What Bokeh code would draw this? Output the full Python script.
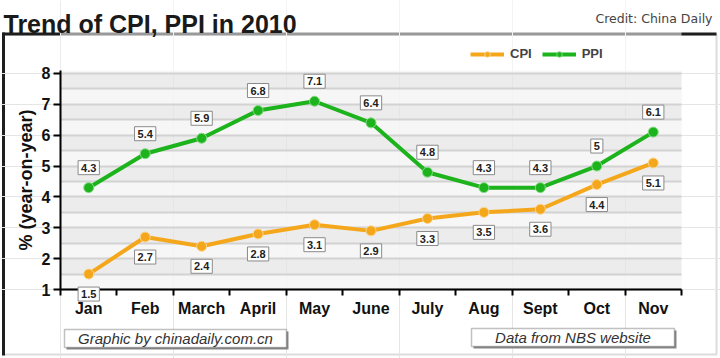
from bokeh.plotting import figure
from bokeh.models import (ColumnDataSource, Range1d, FixedTicker, Label, LinearAxis, Grid,
                          BoxAnnotation, Legend, LegendItem)
from bokeh.embed import file_html
from bokeh.resources import INLINE

# ---- data ----
months = ["Jan", "Feb", "March", "April", "May", "June", "July", "Aug", "Sept", "Oct", "Nov"]
cpi = [1.5, 2.7, 2.4, 2.8, 3.1, 2.9, 3.3, 3.5, 3.6, 4.4, 5.1]
ppi = [4.3, 5.4, 5.9, 6.8, 7.1, 6.4, 4.8, 4.3, 4.3, 5.0, 6.1]
y_ticks = [1, 2, 3, 4, 5, 6, 7, 8]

title_text = "Trend of CPI, PPI in 2010"
credit_text = "Credit: China Daily"
ylabel_text = "% (year-on-year)"
footer_left = "Graphic by chinadaily.com.cn"
footer_right = "Data from NBS website"

ORANGE = "#f5a71c"
GREEN = "#1db31d"
FONT = "Liberation Sans"

W, H = 720, 358
n = len(months)
xs = [i + 0.5 for i in range(n)]

# canvas pixel geometry of the plotting area (frame covers whole canvas)
AX_L, AX_R = 60, 681     # x = 0 .. n
Y1_ROW = 289             # y = 1
PX_X = (AX_R - AX_L) / n
PX_Y = 30.86
Y_MAX = 8.1


def dx(px):   # canvas column -> data x
    return (px - AX_L) / PX_X


def dy(py):   # canvas row -> data y
    return 1 + (Y1_ROW - py) / PX_Y


src = ColumnDataSource(dict(x=xs, cpi=cpi, ppi=ppi))

p = figure(width=W, height=H, output_backend="svg", toolbar_location=None,
           x_range=Range1d(dx(0), dx(W)), y_range=Range1d(dy(H), dy(0)),
           x_axis_location=None, y_axis_location=None,
           min_border=0, min_border_left=0, min_border_right=0,
           min_border_top=0, min_border_bottom=0)
p.title.visible = False
p.outline_line_color = None
p.background_fill_color = "white"
p.border_fill_color = "white"

# outer frame: gray right/bottom, black top/left
p.add_layout(BoxAnnotation(left=dx(3), right=dx(716), top=dy(34), bottom=dy(354),
                           fill_alpha=0, line_color="#8c8c8c", line_width=2, level="image"))
p.add_layout(BoxAnnotation(left=dx(2), right=dx(716), top=dy(32), bottom=dy(35),
                           fill_color="#1e1e1e", fill_alpha=1, line_alpha=0, level="image"))
p.add_layout(BoxAnnotation(left=dx(1.5), right=dx(4.5), top=dy(32), bottom=dy(355),
                           fill_color="#1e1e1e", fill_alpha=1, line_alpha=0, level="image"))

# gray plotting area
p.add_layout(BoxAnnotation(left=0, right=n, bottom=1, top=Y_MAX, fill_color="#ececec",
                           fill_alpha=1, line_alpha=0, level="image"))

# horizontal grid
grid = Grid(dimension=1, ticker=FixedTicker(ticks=[1 + 0.5 * k for k in range(15)]),
            cross_bounds=(0, n))
grid.grid_line_color = "#d2d2d2"
grid.grid_line_width = 2
grid.band_fill_color = "#ffffff"
grid.band_fill_alpha = 0.55
p.add_layout(grid)

# x axis (fixed at y = 1)
xa = LinearAxis(fixed_location=1, bounds=(0, n))
p.add_layout(xa, "below")
xa.ticker = FixedTicker(ticks=xs, minor_ticks=list(range(n + 1)))
xa.major_label_overrides = {x: m for x, m in zip(xs, months)}
xa.major_tick_line_color = None
xa.major_tick_out = 6
xa.major_tick_in = 0
xa.minor_tick_out = 6
xa.minor_tick_in = 0
xa.minor_tick_line_color = "black"
xa.minor_tick_line_width = 2
xa.axis_line_width = 2
xa.axis_line_color = "black"
xa.major_label_standoff = 4
xa.major_label_text_font = FONT
xa.major_label_text_font_style = "bold"
xa.major_label_text_font_size = "16px"
xa.major_label_text_color = "#111111"

# y axis (fixed at x = 0)
ya = LinearAxis(fixed_location=0, bounds=(1, Y_MAX))
p.add_layout(ya, "left")
ya.ticker = FixedTicker(ticks=y_ticks)
ya.major_tick_out = 7
ya.major_tick_in = 0
ya.major_tick_line_width = 2
ya.minor_tick_line_color = None
ya.axis_line_width = 2
ya.axis_line_color = "black"
ya.major_label_standoff = 3
ya.major_label_text_font = FONT
ya.major_label_text_font_style = "bold"
ya.major_label_text_font_size = "16px"
ya.major_label_text_color = "#111111"
ya.axis_label = ylabel_text
ya.axis_label_text_font = FONT
ya.axis_label_text_font_style = "bold"
ya.axis_label_text_font_size = "18px"
ya.axis_label_text_color = "#111111"
ya.axis_label_standoff = 3

# series
cl = p.line("x", "cpi", source=src, line_color=ORANGE, line_width=4)
cs = p.scatter("x", "cpi", source=src, size=10, fill_color=ORANGE,
               line_color="#fbd58f", line_width=1)
pl = p.line("x", "ppi", source=src, line_color=GREEN, line_width=4)
ps = p.scatter("x", "ppi", source=src, size=10, fill_color=GREEN,
               line_color="#86db86", line_width=1)


# data labels (shadow + box)
def add_labels(values, yoff):
    for x, v in zip(xs, values):
        t = f"{v:g}"
        p.add_layout(Label(x=x, y=v, text=t, x_offset=2, y_offset=yoff - 2,
                           text_align="center", text_baseline="middle",
                           text_font=FONT, text_font_style="bold", text_font_size="11px",
                           text_alpha=0.0, background_fill_color="#9a9a9a",
                           background_fill_alpha=0.7, padding=3))
        p.add_layout(Label(x=x, y=v, text=t, y_offset=yoff,
                           text_align="center", text_baseline="middle",
                           text_font=FONT, text_font_style="bold", text_font_size="11px",
                           text_color="#222222", background_fill_color="white",
                           border_line_color="#8a8a8a", border_line_width=1, padding=3))


add_labels(ppi, 20)
add_labels(cpi, -20)

# legend
legend = Legend(items=[LegendItem(label="CPI", renderers=[cl, cs]),
                       LegendItem(label="PPI", renderers=[pl, ps])],
                location=(470, H - 61), orientation="horizontal")
legend.border_line_color = None
legend.background_fill_alpha = 0
legend.label_text_font = FONT
legend.label_text_font_style = "bold"
legend.label_text_font_size = "13px"
legend.glyph_width = 34
legend.glyph_height = 14
legend.label_standoff = 6
legend.spacing = 10
legend.padding = 0
legend.margin = 0
p.add_layout(legend)

# title + credit
p.add_layout(Label(x=dx(3), y=dy(23), text=title_text, text_font=FONT, text_font_style="bold",
                   text_font_size="25px", text_color="#1a1a1a", text_baseline="alphabetic"))
p.add_layout(Label(x=dx(712), y=dy(18), text=credit_text, text_font="DejaVu Sans",
                   text_font_size="12.5px", text_align="right", text_color="#444444",
                   text_baseline="alphabetic"))

# footer boxes (canvas pixel boxes: left, right, top, bottom)
for (l, r, t, b, txt) in [(64, 286, 329, 347, footer_left), (471, 674, 328, 346, footer_right)]:
    p.add_layout(BoxAnnotation(left=dx(l + 2), right=dx(r + 2), top=dy(t + 2), bottom=dy(b + 2),
                               fill_color="#8a8a8a", fill_alpha=1, line_alpha=0))
    p.add_layout(BoxAnnotation(left=dx(l), right=dx(r), top=dy(t), bottom=dy(b),
                               fill_color="white", fill_alpha=1, line_color="#333333",
                               line_width=1.5))
    p.add_layout(Label(x=dx((l + r) / 2), y=dy((t + b) / 2), text=txt, text_font=FONT,
                       text_font_style="italic", text_font_size="15px", text_color="#333333",
                       text_align="center", text_baseline="middle"))

open("out.html", "w").write(file_html(p, INLINE))
